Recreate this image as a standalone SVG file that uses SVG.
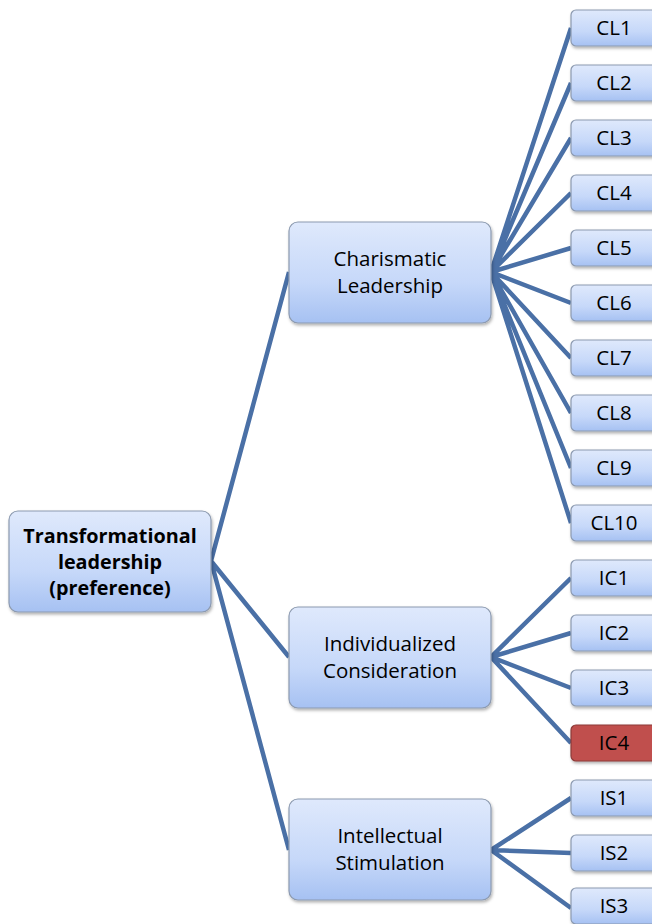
<svg xmlns="http://www.w3.org/2000/svg" width="652" height="924" viewBox="0 0 652 924">
<defs>
<linearGradient id="g" x1="0" y1="0" x2="0" y2="1">
<stop offset="0" stop-color="#dfe9fc"/>
<stop offset="0.6" stop-color="#c6d8f9"/>
<stop offset="1" stop-color="#a6c1f2"/>
</linearGradient>
<filter id="sh" x="-10%" y="-10%" width="130%" height="140%">
<feDropShadow dx="1" dy="2" stdDeviation="1.5" flood-color="#000" flood-opacity="0.3"/>
</filter>
</defs>
<style>
.box{fill:url(#g);stroke:#8c9ab0;stroke-width:1.2;filter:url(#sh)}
.red{fill:#c0504d;stroke:#8c3a38;stroke-width:1.2;filter:url(#sh)}
.t{font-family:"Open Sans","Liberation Sans",sans-serif;font-size:20.5px;fill:#000;text-anchor:middle}
.b{font-weight:bold;font-size:19.8px}
.c{stroke:#4a70a6;stroke-width:4.5;fill:none}
</style>
<g id="connectors">
<path class="c" d="M211 561L289 272M211 561L289 657M211 561L289 850"/>
<path class="c" d="M491 272L571 28M491 272L571 83M491 272L571 138M491 272L571 193M491 272L571 248M491 272L571 303M491 272L571 358M491 272L571 413M491 272L571 468M491 272L571 523"/>
<path class="c" d="M491 657L571 578M491 657L571 633M491 657L571 688M491 657L571 743"/>
<path class="c" d="M491 850L571 798M491 850L571 853M491 850L571 908"/>
</g>
<g id="root"><rect class="box" x="9" y="511" width="202" height="101" rx="9"/>
<text class="t b" x="110" y="543">Transformational</text><text class="t b" x="110" y="569">leadership</text><text class="t b" x="110" y="595">(preference)</text></g>
<g id="cl"><rect class="box" x="289" y="222" width="202" height="101" rx="9"/>
<text class="t" x="390" y="266">Charismatic</text><text class="t" x="390" y="293">Leadership</text></g>
<g id="ic"><rect class="box" x="289" y="607" width="202" height="101" rx="9"/>
<text class="t" x="390" y="651">Individualized</text><text class="t" x="390" y="678">Consideration</text></g>
<g id="is"><rect class="box" x="289" y="799" width="202" height="101" rx="9"/>
<text class="t" x="390" y="843">Intellectual</text><text class="t" x="390" y="870">Stimulation</text></g>
<g id="CL1"><rect class="box" x="571" y="10" width="88" height="36" rx="5"/><text class="t" x="614" y="35">CL1</text></g>
<g id="CL2"><rect class="box" x="571" y="65" width="88" height="36" rx="5"/><text class="t" x="614" y="90">CL2</text></g>
<g id="CL3"><rect class="box" x="571" y="120" width="88" height="36" rx="5"/><text class="t" x="614" y="145">CL3</text></g>
<g id="CL4"><rect class="box" x="571" y="175" width="88" height="36" rx="5"/><text class="t" x="614" y="200">CL4</text></g>
<g id="CL5"><rect class="box" x="571" y="230" width="88" height="36" rx="5"/><text class="t" x="614" y="255">CL5</text></g>
<g id="CL6"><rect class="box" x="571" y="285" width="88" height="36" rx="5"/><text class="t" x="614" y="310">CL6</text></g>
<g id="CL7"><rect class="box" x="571" y="340" width="88" height="36" rx="5"/><text class="t" x="614" y="365">CL7</text></g>
<g id="CL8"><rect class="box" x="571" y="395" width="88" height="36" rx="5"/><text class="t" x="614" y="420">CL8</text></g>
<g id="CL9"><rect class="box" x="571" y="450" width="88" height="36" rx="5"/><text class="t" x="614" y="475">CL9</text></g>
<g id="CL10"><rect class="box" x="571" y="505" width="88" height="36" rx="5"/><text class="t" x="614" y="530">CL10</text></g>
<g id="IC1"><rect class="box" x="571" y="560" width="88" height="36" rx="5"/><text class="t" x="614" y="585">IC1</text></g>
<g id="IC2"><rect class="box" x="571" y="615" width="88" height="36" rx="5"/><text class="t" x="614" y="640">IC2</text></g>
<g id="IC3"><rect class="box" x="571" y="670" width="88" height="36" rx="5"/><text class="t" x="614" y="695">IC3</text></g>
<g id="IC4"><rect class="red" x="571" y="725" width="88" height="36" rx="5"/><text class="t" x="614" y="750">IC4</text></g>
<g id="IS1"><rect class="box" x="571" y="780" width="88" height="36" rx="5"/><text class="t" x="614" y="805">IS1</text></g>
<g id="IS2"><rect class="box" x="571" y="835" width="88" height="36" rx="5"/><text class="t" x="614" y="860">IS2</text></g>
<g id="IS3"><rect class="box" x="571" y="888" width="88" height="36" rx="5"/><text class="t" x="614" y="913">IS3</text></g>
</svg>
